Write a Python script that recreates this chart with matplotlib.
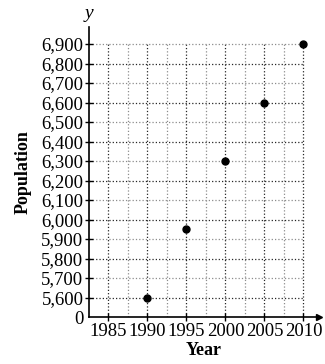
import matplotlib.pyplot as plt
import numpy as np

# --- dati ---
anni = [1990, 1995, 2000, 2005, 2010]
popolazione = [5600, 5950, 6300, 6600, 6900]
tick_anni = [1985, 1990, 1995, 2000, 2005, 2010]
tick_pop = [0, 5600, 5700, 5800, 5900, 6000, 6100, 6200, 6300, 6400, 6500, 6600, 6700, 6800, 6900]

plt.rcParams['font.family'] = ['Liberation Serif', 'DejaVu Serif']

base = 5500  # asse y spezzato: 0 sotto 5,600
def pos_y(v):
    return 0 if v == 0 else (v - base) / 100.0

fig = plt.figure(figsize=(3.25, 3.64), dpi=100)
ax = fig.add_axes([89 / 325, 47 / 364, 230 / 325, 290.5 / 364])
ax.set_xlim(1982.5, 2012)
ax.set_ylim(0, 14.9)

# griglia tratteggiata
x_grid = np.arange(1985, 2010.1, 2.5)
for xg in x_grid:
    c = '0.15' if xg % 5 == 0 else '0.55'
    ax.plot([xg, xg], [0, 14], ls=':', lw=0.9, color=c, zorder=1)
for i in range(1, 15):
    c = '0.15' if i % 2 == 1 else '0.55'
    ax.plot([1982.5, 2010], [i, i], ls=':', lw=0.9, color=c, zorder=1)

# punti
ax.plot(anni, [pos_y(v) for v in popolazione], 'o', color='black', ms=5, zorder=3)

# assi con frecce
for s in ['top', 'right']:
    ax.spines[s].set_visible(False)
ax.spines['left'].set_linewidth(1.2)
ax.spines['bottom'].set_linewidth(1.2)
ax.plot(1, 0, '>k', ms=5, transform=ax.get_yaxis_transform(), clip_on=False)
ax.plot(0, 1, '^k', ms=5, transform=ax.get_xaxis_transform(), clip_on=False)

ax.set_xticks(tick_anni)
ax.set_xticklabels([str(a) for a in tick_anni], fontsize=13.5)
ax.set_yticks([pos_y(v) for v in tick_pop])
ax.set_yticklabels([f'{v:,}' for v in tick_pop], fontsize=13.5)
ax.tick_params(axis='both', direction='inout', length=6, width=1, pad=1, colors='black')
ax.yaxis.get_major_ticks()[0].tick1line.set_visible(False)
ax.yaxis.get_major_ticks()[0].label1.set_y(-0.3)

ax.set_xlabel('Year', fontsize=13, fontweight='bold', labelpad=2)
ax.set_ylabel('Population', fontsize=13, fontweight='bold', labelpad=7)
ax.text(0, 1.015, 'y', transform=ax.transAxes, fontsize=14, style='italic', ha='center', va='bottom')

plt.savefig('out.png', dpi=100)
